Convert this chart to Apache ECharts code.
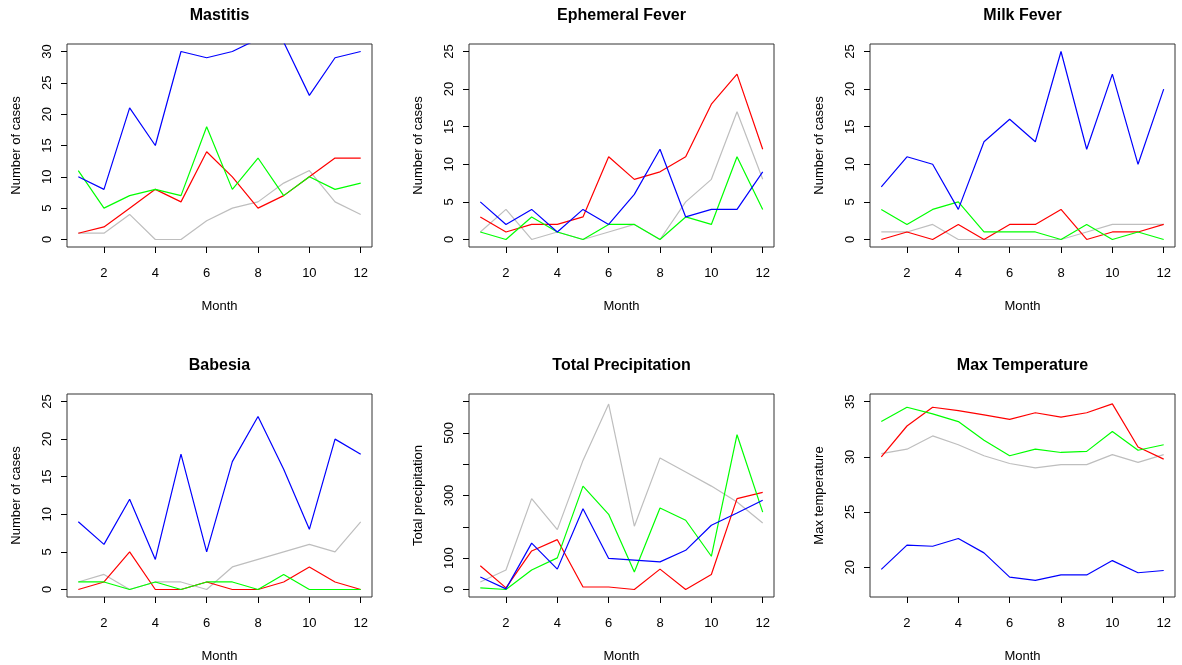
<!DOCTYPE html>
<html>
<head>
<meta charset="utf-8">
<title>Monthly cases</title>
<script src="https://cdn.jsdelivr.net/npm/echarts@6/dist/echarts.min.js"></script>
<style>
  html, body { margin: 0; padding: 0; background: #fff; }
  #main { width: 1182px; height: 665px; }
</style>
</head>
<body>
<div id="main"></div>
<script>
// months on the x axis
var months = [1, 2, 3, 4, 5, 6, 7, 8, 9, 10, 11, 12];
var monthTicks = [2, 4, 6, 8, 10, 12];

// Mastitis
var mastitisBlue = [10, 8, 21, 15, 30, 29, 30, 32, 31.5, 23, 29, 30];
var mastitisGreen = [11, 5, 7, 8, 7, 18, 8, 13, 7, 10, 8, 9];
var mastitisRed = [1, 2, 5, 8, 6, 14, 10, 5, 7, 10, 13, 13];
var mastitisGray = [1, 1, 4, 0, 0, 3, 5, 6, 9, 11, 6, 4];

// Ephemeral Fever
var ephemeralBlue = [5, 2, 4, 1, 4, 2, 6, 12, 3, 4, 4, 9];
var ephemeralGreen = [1, 0, 3, 1, 0, 2, 2, 0, 3, 2, 11, 4];
var ephemeralRed = [3, 1, 2, 2, 3, 11, 8, 9, 11, 18, 22, 12];
var ephemeralGray = [1, 4, 0, 1, 0, 1, 2, 0, 5, 8, 17, 8];

// Milk Fever
var milkBlue = [7, 11, 10, 4, 13, 16, 13, 25, 12, 22, 10, 20];
var milkGreen = [4, 2, 4, 5, 1, 1, 1, 0, 2, 0, 1, 0];
var milkRed = [0, 1, 0, 2, 0, 2, 2, 4, 0, 1, 1, 2];
var milkGray = [1, 1, 2, 0, 0, 0, 0, 0, 1, 2, 2, 2];

// Babesia
var babesiaBlue = [9, 6, 12, 4, 18, 5, 17, 23, 16, 8, 20, 18];
var babesiaGreen = [1, 1, 0, 1, 0, 1, 1, 0, 2, 0, 0, 0];
var babesiaRed = [0, 1, 5, 0, 0, 1, 0, 0, 1, 3, 1, 0];
var babesiaGray = [1, 2, 0, 1, 1, 0, 3, 4, 5, 6, 5, 9];

// Total Precipitation
var precipBlue = [40, 2, 148, 65, 258, 99, 94, 88, 125, 205, 244, 285];
var precipGreen = [5, 0, 62, 101, 330, 240, 56, 260, 221, 106, 494, 247];
var precipRed = [76, 5, 123, 159, 8, 8, 0, 65, 0, 48, 290, 310];
var precipGray = [24, 62, 290, 191, 412, 592, 202, 420, 375, 330, 279, 212];

// Max Temperature
var tempBlue = [19.8, 22.0, 21.9, 22.6, 21.3, 19.1, 18.8, 19.3, 19.3, 20.6, 19.5, 19.7];
var tempGreen = [33.2, 34.5, 33.9, 33.2, 31.5, 30.1, 30.7, 30.4, 30.5, 32.3, 30.6, 31.1];
var tempRed = [30.0, 32.8, 34.5, 34.2, 33.8, 33.4, 34.0, 33.6, 34.0, 34.8, 30.9, 29.8];
var tempGray = [30.3, 30.7, 31.9, 31.1, 30.1, 29.4, 29.0, 29.3, 29.3, 30.2, 29.5, 30.2];

// y tick values
var casesTicks30 = [0, 5, 10, 15, 20, 25, 30];
var casesTicks25 = [0, 5, 10, 15, 20, 25];
var precipTicks = [0, 100, 200, 300, 400, 500, 600];
var precipLabels = [0, 100, 300, 500];
var tempTicks = [20, 25, 30, 35];

var FONT = '"Liberation Sans", Arial, sans-serif';
var COLORS = { gray: '#bebebe', red: '#ff0000', green: '#00ff00', blue: '#0000ff' };

var panels = [
    { title: 'Mastitis', ylab: 'Number of cases', ymin: -1.2, ymax: 31.2, ticks: casesTicks30, labels: casesTicks30,
      gray: mastitisGray, red: mastitisRed, green: mastitisGreen, blue: mastitisBlue, left: 67, top: 44 },
    { title: 'Ephemeral Fever', ylab: 'Number of cases', ymin: -1, ymax: 26, ticks: casesTicks25, labels: casesTicks25,
      gray: ephemeralGray, red: ephemeralRed, green: ephemeralGreen, blue: ephemeralBlue, left: 469, top: 44 },
    { title: 'Milk Fever', ylab: 'Number of cases', ymin: -1, ymax: 26, ticks: casesTicks25, labels: casesTicks25,
      gray: milkGray, red: milkRed, green: milkGreen, blue: milkBlue, left: 870, top: 44 },
    { title: 'Babesia', ylab: 'Number of cases', ymin: -1, ymax: 26, ticks: casesTicks25, labels: casesTicks25,
      gray: babesiaGray, red: babesiaRed, green: babesiaGreen, blue: babesiaBlue, left: 67, top: 394 },
    { title: 'Total Precipitation', ylab: 'Total precipitation', ymin: -24, ymax: 624, ticks: precipTicks, labels: precipLabels,
      gray: precipGray, red: precipRed, green: precipGreen, blue: precipBlue, left: 469, top: 394 },
    { title: 'Max Temperature', ylab: 'Max temperature', ymin: 17.3, ymax: 35.7, ticks: tempTicks, labels: tempTicks,
      gray: tempGray, red: tempRed, green: tempGreen, blue: tempBlue, left: 870, top: 394 }
];

var W = 305, H = 203;

function pairs(values) {
    return months.map(function (m, i) { return [m, values[i]]; });
}

var option = { animation: false, backgroundColor: '#fff', title: [], grid: [], xAxis: [], yAxis: [], series: [] };

panels.forEach(function (p, i) {
    option.title.push({
        text: p.title,
        left: p.left + W / 2,
        top: p.top - 36,
        textAlign: 'center',
        padding: 0,
        textStyle: { fontSize: 16, fontWeight: 'bold', color: '#000', fontFamily: FONT }
    });
    option.grid.push({
        left: p.left, top: p.top, width: W, height: H,
        show: true, borderColor: '#333', borderWidth: 1, backgroundColor: 'transparent'
    });
    option.xAxis.push({
        gridIndex: i,
        type: 'value',
        min: 0.56,
        max: 12.44,
        axisLine: { show: false, onZero: false },
        splitLine: { show: false },
        axisTick: { show: true, length: 6, lineStyle: { color: '#000' }, customValues: monthTicks },
        axisLabel: { customValues: monthTicks, margin: 20, fontSize: 13, color: '#000', fontFamily: FONT },
        name: 'Month',
        nameLocation: 'middle',
        nameGap: 53,
        nameTextStyle: { fontSize: 13, color: '#000', fontFamily: FONT }
    });
    option.yAxis.push({
        gridIndex: i,
        type: 'value',
        min: p.ymin,
        max: p.ymax,
        axisLine: { show: false, onZero: false },
        splitLine: { show: false },
        axisTick: { show: true, length: 6, lineStyle: { color: '#000' }, customValues: p.ticks },
        axisLabel: { customValues: p.labels, rotate: 90, margin: 13, fontSize: 13, color: '#000', fontFamily: FONT },
        name: p.ylab,
        nameLocation: 'middle',
        nameGap: 44,
        nameTextStyle: { fontSize: 13, color: '#000', fontFamily: FONT }
    });
    ['gray', 'red', 'green', 'blue'].forEach(function (c) {
        option.series.push({
            type: 'line',
            xAxisIndex: i,
            yAxisIndex: i,
            data: pairs(p[c]),
            symbol: 'none',
            clip: true,
            lineStyle: { width: 1.2, color: COLORS[c] },
            itemStyle: { color: COLORS[c] }
        });
    });
});

var myChart = echarts.init(document.getElementById('main'));
myChart.setOption(option);
</script>
</body>
</html>
